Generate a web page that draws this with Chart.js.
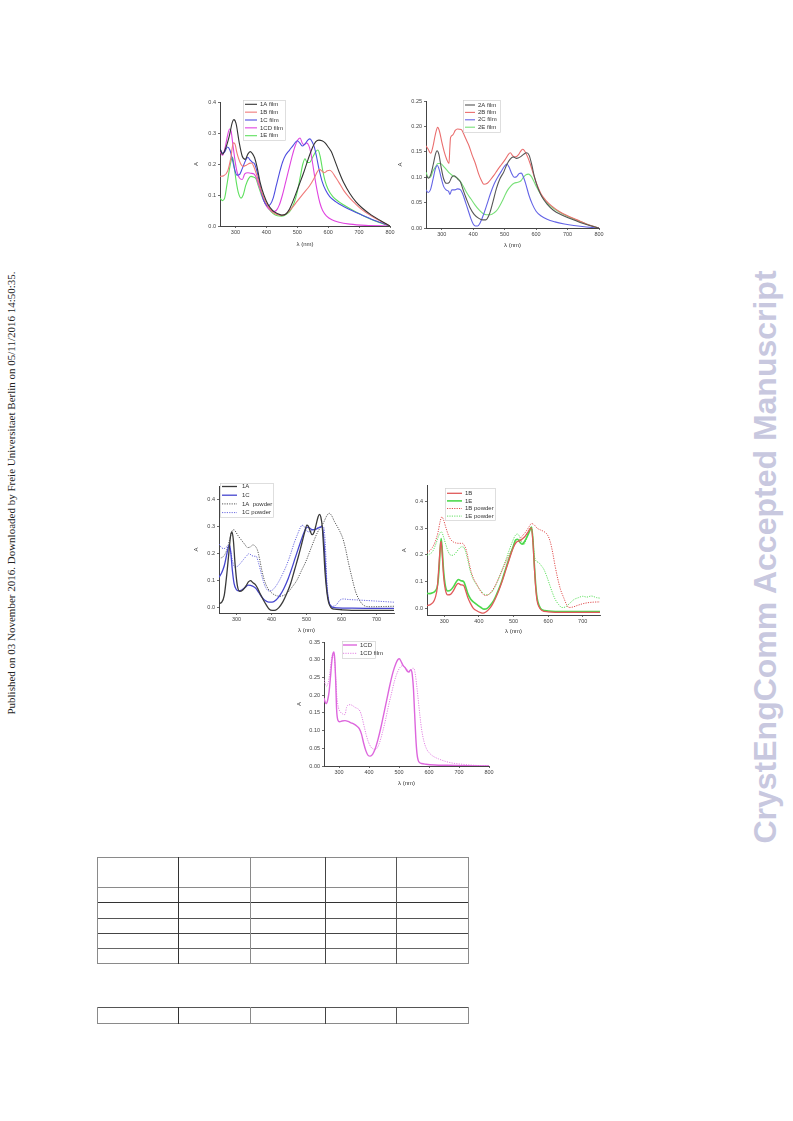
<!DOCTYPE html>
<html><head><meta charset="utf-8">
<script src="https://cdn.jsdelivr.net/npm/chart.js@4.4.1/dist/chart.umd.min.js"></script>
<style>
html,body{margin:0;padding:0;background:#fff;}
#page{position:relative;width:793px;height:1121px;overflow:hidden;background:#fff;}
canvas{position:absolute;filter:blur(0.3px);}
.rot{position:absolute;white-space:nowrap;transform:translate(-50%,-50%) rotate(-90deg);}
.ln{position:absolute;}
</style></head><body><div id="page">
<canvas id="c1" width="212" height="152" style="left:188px;top:96px"></canvas>
<canvas id="c2" width="212" height="154" style="left:396px;top:95px"></canvas>
<canvas id="c3" width="212" height="154" style="left:188px;top:480px"></canvas>
<canvas id="c4" width="212" height="155" style="left:395px;top:480px"></canvas>
<canvas id="c5" width="205" height="151" style="left:295px;top:636px"></canvas>
<div class="rot" style="left:11px;top:493px;font:11px 'Liberation Serif';color:#222">Published on 03 November 2016. Downloaded by Freie Universitaet Berlin on 05/11/2016 14:50:35.</div>
<div class="rot" style="left:765px;top:557px;font:bold 32px 'Liberation Sans';color:#c8c8df">CrystEngComm Accepted Manuscript</div>
<div id="tables"></div>
</div>
<script>
// ---------- DATA ----------
// Chart 1: films (A vs wavelength)
const film1A = [[250,0.25],[258,0.232],[268,0.25],[280,0.29],[290,0.335],[295,0.343],[302,0.33],[312,0.27],[322,0.225],[332,0.215],[340,0.232],[348,0.24],[356,0.232],[362,0.22],[370,0.19],[380,0.14],[392,0.1],[405,0.07],[420,0.05],[435,0.04],[450,0.035],[462,0.038],[475,0.055],[490,0.09],[505,0.13],[520,0.17],[535,0.215],[550,0.255],[560,0.272],[570,0.277],[580,0.275],[590,0.268],[600,0.255],[610,0.24],[620,0.215],[635,0.175],[650,0.14],[670,0.105],[690,0.078],[710,0.058],[740,0.035],[770,0.017],[800,0.0]];
const film1B = [[250,0.16],[262,0.162],[275,0.178],[285,0.22],[293,0.268],[298,0.265],[305,0.235],[315,0.205],[325,0.192],[335,0.196],[345,0.202],[352,0.203],[360,0.19],[370,0.16],[380,0.125],[392,0.09],[405,0.065],[420,0.045],[435,0.037],[450,0.034],[465,0.04],[480,0.055],[500,0.08],[520,0.105],[540,0.13],[555,0.155],[565,0.175],[572,0.183],[580,0.177],[588,0.172],[597,0.178],[605,0.18],[612,0.175],[622,0.16],[635,0.14],[650,0.115],[670,0.09],[690,0.07],[710,0.052],[740,0.032],[770,0.015],[800,0.0]];
const film1C = [[250,0.25],[258,0.235],[266,0.24],[274,0.255],[282,0.245],[290,0.215],[298,0.18],[305,0.164],[312,0.165],[322,0.185],[332,0.21],[340,0.222],[347,0.213],[355,0.205],[362,0.2],[370,0.175],[378,0.14],[386,0.1],[395,0.075],[405,0.065],[413,0.07],[422,0.09],[432,0.13],[442,0.17],[452,0.205],[462,0.228],[475,0.245],[488,0.262],[500,0.275],[508,0.268],[516,0.258],[525,0.265],[535,0.278],[541,0.281],[548,0.272],[555,0.255],[562,0.225],[570,0.185],[580,0.145],[592,0.115],[605,0.095],[625,0.078],[650,0.063],[680,0.048],[710,0.035],[740,0.022],[770,0.011],[800,0.0]];
const film1CD = [[250,0.24],[258,0.228],[266,0.25],[274,0.29],[281,0.313],[286,0.305],[292,0.26],[298,0.215],[305,0.175],[313,0.155],[322,0.15],[330,0.168],[340,0.172],[350,0.17],[360,0.168],[368,0.155],[376,0.13],[386,0.1],[396,0.072],[408,0.055],[420,0.046],[432,0.05],[442,0.068],[452,0.1],[462,0.14],[472,0.18],[482,0.22],[492,0.255],[502,0.278],[509,0.284],[516,0.268],[522,0.262],[530,0.268],[537,0.26],[543,0.24],[550,0.2],[557,0.155],[565,0.11],[573,0.075],[582,0.05],[595,0.032],[612,0.02],[635,0.012],[670,0.006],[720,0.002],[800,0.0]];
const film1E = [[250,0.09],[258,0.082],[265,0.09],[272,0.13],[280,0.18],[287,0.215],[291,0.222],[296,0.19],[303,0.14],[310,0.105],[318,0.09],[325,0.1],[333,0.13],[342,0.152],[350,0.16],[358,0.158],[366,0.153],[374,0.13],[384,0.1],[395,0.075],[408,0.055],[422,0.04],[436,0.033],[450,0.032],[465,0.038],[478,0.05],[490,0.075],[500,0.11],[510,0.16],[518,0.2],[525,0.217],[532,0.205],[540,0.205],[550,0.222],[560,0.24],[567,0.245],[574,0.225],[582,0.18],[590,0.145],[600,0.118],[615,0.095],[635,0.078],[660,0.062],[690,0.045],[720,0.03],[750,0.017],[775,0.008],[800,0.0]];
// Chart 2: films
const film2A = [[250,0.104],[258,0.098],[265,0.105],[273,0.125],[280,0.145],[285,0.152],[291,0.145],[298,0.12],[306,0.097],[315,0.088],[324,0.09],[332,0.1],[339,0.103],[346,0.1],[353,0.095],[360,0.09],[368,0.075],[378,0.058],[390,0.04],[403,0.027],[418,0.019],[430,0.016],[440,0.016],[452,0.028],[463,0.052],[474,0.078],[485,0.097],[497,0.11],[507,0.125],[517,0.135],[527,0.14],[538,0.137],[550,0.14],[560,0.145],[570,0.148],[578,0.143],[586,0.125],[595,0.1],[605,0.08],[618,0.062],[635,0.047],[655,0.035],[680,0.026],[710,0.018],[740,0.011],[770,0.005],[800,0.0]];
const film2B = [[250,0.162],[257,0.155],[265,0.147],[272,0.16],[280,0.185],[287,0.198],[293,0.19],[300,0.17],[308,0.15],[316,0.135],[323,0.127],[326,0.16],[328,0.178],[335,0.183],[343,0.192],[350,0.195],[362,0.194],[370,0.185],[377,0.175],[386,0.163],[397,0.143],[407,0.127],[417,0.107],[425,0.095],[434,0.086],[445,0.088],[455,0.095],[465,0.103],[478,0.115],[490,0.125],[502,0.135],[512,0.145],[518,0.148],[526,0.142],[535,0.14],[545,0.145],[553,0.153],[558,0.155],[565,0.15],[573,0.14],[582,0.125],[592,0.105],[603,0.085],[615,0.068],[630,0.055],[650,0.043],[675,0.032],[700,0.024],[730,0.016],[760,0.008],[800,0.0]];
const film2C = [[250,0.075],[257,0.07],[264,0.075],[272,0.095],[280,0.117],[286,0.123],[292,0.115],[299,0.097],[306,0.082],[314,0.075],[322,0.072],[326,0.066],[332,0.075],[340,0.075],[350,0.077],[360,0.075],[368,0.065],[376,0.05],[385,0.033],[393,0.018],[400,0.008],[407,0.004],[414,0.004],[422,0.01],[432,0.025],[443,0.045],[455,0.068],[467,0.087],[478,0.1],[490,0.112],[500,0.122],[507,0.126],[514,0.12],[522,0.108],[530,0.1],[538,0.101],[546,0.107],[553,0.108],[560,0.1],[568,0.085],[577,0.065],[588,0.047],[600,0.033],[615,0.024],[635,0.017],[660,0.012],[690,0.008],[720,0.005],[760,0.002],[800,0.0]];
const film2E = [[250,0.11],[257,0.1],[264,0.1],[272,0.112],[280,0.12],[288,0.127],[296,0.127],[305,0.122],[315,0.115],[325,0.108],[335,0.103],[345,0.1],[355,0.095],[363,0.088],[372,0.078],[382,0.067],[393,0.057],[405,0.046],[418,0.036],[430,0.029],[442,0.026],[455,0.026],[467,0.03],[478,0.037],[490,0.05],[500,0.063],[510,0.075],[520,0.083],[530,0.088],[542,0.09],[552,0.093],[560,0.1],[568,0.105],[576,0.106],[584,0.102],[592,0.093],[602,0.08],[615,0.066],[630,0.053],[650,0.041],[675,0.031],[700,0.023],[730,0.015],[760,0.008],[800,0.0]];
// Chart 3: 1A / 1C (solution vs powder)
const sol1A = [[250,0.015],[258,0.02],[265,0.045],[272,0.12],[278,0.2],[283,0.265],[287,0.28],[291,0.25],[296,0.16],[302,0.085],[309,0.06],[318,0.065],[327,0.08],[334,0.095],[340,0.1],[347,0.092],[354,0.085],[361,0.07],[368,0.05],[376,0.03],[385,0.01],[393,-0.005],[402,-0.01],[412,-0.009],[421,0.0],[432,0.02],[443,0.05],[455,0.09],[466,0.14],[477,0.19],[487,0.24],[495,0.28],[501,0.305],[505,0.302],[510,0.285],[516,0.27],[522,0.28],[528,0.31],[533,0.335],[537,0.345],[541,0.335],[545,0.3],[549,0.22],[553,0.13],[558,0.06],[563,0.02],[570,0.0],[580,-0.006],[600,-0.008],[650,-0.01],[700,-0.01],[750,-0.01]];
const sol1C = [[250,0.112],[258,0.13],[265,0.155],[271,0.19],[276,0.22],[280,0.232],[284,0.2],[288,0.14],[293,0.09],[299,0.068],[306,0.062],[315,0.065],[325,0.075],[333,0.083],[340,0.082],[348,0.078],[356,0.07],[364,0.055],[372,0.04],[382,0.026],[392,0.02],[402,0.02],[413,0.028],[424,0.045],[435,0.07],[447,0.105],[458,0.145],[468,0.185],[477,0.22],[485,0.25],[492,0.275],[498,0.293],[503,0.298],[510,0.293],[518,0.288],[527,0.29],[536,0.296],[543,0.3],[547,0.285],[551,0.22],[555,0.13],[559,0.06],[564,0.02],[570,0.005],[580,0.0],[620,-0.002],[700,-0.003],[750,-0.003]];
const pow1A = [[250,0.183],[258,0.185],[266,0.195],[274,0.22],[282,0.26],[288,0.285],[293,0.288],[298,0.28],[305,0.265],[314,0.25],[323,0.235],[332,0.222],[340,0.225],[347,0.232],[353,0.228],[360,0.212],[366,0.18],[372,0.14],[380,0.1],[390,0.07],[400,0.055],[412,0.045],[424,0.042],[436,0.046],[448,0.058],[460,0.078],[472,0.1],[485,0.135],[498,0.17],[510,0.21],[522,0.25],[532,0.28],[542,0.3],[550,0.318],[558,0.34],[565,0.349],[572,0.34],[580,0.318],[588,0.3],[596,0.28],[604,0.255],[612,0.215],[620,0.165],[630,0.11],[640,0.06],[650,0.03],[660,0.012],[672,0.004],[690,0.003],[720,0.004],[750,0.005]];
const pow1C = [[250,0.235],[257,0.222],[264,0.218],[272,0.225],[278,0.232],[283,0.21],[289,0.17],[295,0.15],[302,0.152],[310,0.162],[320,0.178],[330,0.193],[336,0.2],[343,0.193],[350,0.19],[356,0.19],[362,0.17],[368,0.14],[375,0.105],[383,0.075],[392,0.062],[400,0.063],[410,0.075],[420,0.095],[432,0.125],[444,0.16],[455,0.2],[465,0.24],[474,0.27],[482,0.295],[487,0.305],[492,0.302],[498,0.29],[505,0.28],[513,0.283],[522,0.29],[532,0.296],[542,0.3],[548,0.3],[552,0.27],[555,0.2],[558,0.1],[562,0.04],[567,0.012],[575,0.005],[585,0.01],[595,0.027],[605,0.032],[620,0.03],[650,0.028],[700,0.024],[750,0.02]];
// Chart 4: 1B / 1E (solution vs powder)
const sol1B = [[250,0.01],[258,0.013],[266,0.02],[274,0.04],[280,0.08],[285,0.17],[289,0.24],[291,0.25],[294,0.2],[298,0.12],[303,0.07],[310,0.05],[318,0.052],[326,0.065],[334,0.085],[340,0.093],[348,0.088],[356,0.085],[362,0.065],[368,0.04],[375,0.02],[384,0.0],[395,-0.01],[405,-0.016],[412,-0.018],[420,-0.014],[428,-0.005],[437,0.01],[447,0.035],[457,0.065],[467,0.1],[477,0.14],[487,0.18],[496,0.215],[504,0.24],[511,0.25],[518,0.252],[526,0.26],[534,0.27],[542,0.285],[549,0.3],[552,0.3],[556,0.25],[560,0.16],[564,0.08],[568,0.03],[574,0.005],[582,-0.008],[600,-0.013],[650,-0.015],[700,-0.015],[750,-0.015]];
const sol1E = [[250,0.056],[258,0.055],[266,0.058],[274,0.065],[281,0.09],[285,0.15],[288,0.22],[291,0.261],[294,0.22],[298,0.14],[303,0.085],[310,0.065],[318,0.068],[326,0.08],[334,0.098],[341,0.108],[348,0.103],[356,0.1],[362,0.08],[368,0.055],[376,0.035],[386,0.022],[396,0.012],[406,0.003],[415,-0.003],[424,0.0],[433,0.012],[443,0.03],[453,0.058],[463,0.09],[473,0.13],[483,0.17],[492,0.205],[500,0.235],[506,0.255],[512,0.258],[518,0.248],[525,0.24],[532,0.25],[540,0.27],[547,0.29],[552,0.304],[556,0.26],[560,0.17],[564,0.09],[568,0.04],[574,0.01],[582,-0.005],[600,-0.01],[650,-0.012],[700,-0.012],[750,-0.012]];
const pow1B = [[250,0.209],[258,0.215],[266,0.228],[274,0.25],[282,0.285],[288,0.325],[293,0.342],[298,0.33],[305,0.3],[313,0.27],[322,0.252],[332,0.245],[342,0.243],[352,0.243],[358,0.235],[364,0.215],[370,0.18],[377,0.14],[385,0.11],[394,0.09],[402,0.07],[410,0.055],[418,0.048],[426,0.05],[436,0.062],[447,0.085],[458,0.115],[470,0.15],[482,0.185],[494,0.215],[505,0.24],[515,0.255],[525,0.27],[535,0.285],[545,0.305],[552,0.317],[560,0.312],[568,0.3],[578,0.293],[588,0.287],[598,0.275],[606,0.25],[613,0.21],[620,0.16],[628,0.11],[636,0.07],[645,0.04],[653,0.015],[660,0.003],[672,0.005],[685,0.011],[700,0.017],[715,0.021],[730,0.023],[750,0.024]];
const pow1E = [[250,0.199],[258,0.203],[266,0.212],[274,0.235],[282,0.265],[288,0.283],[292,0.286],[297,0.27],[304,0.24],[312,0.21],[320,0.198],[328,0.2],[336,0.212],[344,0.225],[350,0.23],[356,0.228],[362,0.21],[368,0.18],[375,0.14],[383,0.11],[392,0.09],[402,0.072],[412,0.057],[420,0.05],[430,0.053],[440,0.065],[452,0.095],[464,0.135],[476,0.175],[487,0.215],[497,0.25],[505,0.272],[511,0.278],[517,0.27],[524,0.248],[530,0.238],[536,0.255],[542,0.28],[548,0.3],[552,0.305],[556,0.26],[560,0.2],[565,0.177],[572,0.172],[580,0.16],[588,0.145],[596,0.12],[604,0.09],[612,0.06],[620,0.035],[630,0.015],[640,0.003],[650,0.005],[662,0.018],[675,0.033],[688,0.04],[700,0.045],[712,0.042],[725,0.046],[740,0.04],[750,0.038]];
// Chart 5: 1CD vs 1CD film
const sol1CD = [[250,0.192],[254,0.18],[258,0.176],[262,0.185],[267,0.21],[272,0.255],[276,0.295],[280,0.318],[283,0.322],[286,0.3],[289,0.24],[292,0.16],[296,0.13],[302,0.125],[310,0.127],[320,0.128],[330,0.126],[340,0.122],[350,0.118],[360,0.112],[368,0.105],[375,0.09],[382,0.065],[390,0.042],[397,0.03],[404,0.028],[412,0.033],[420,0.047],[430,0.075],[440,0.11],[450,0.15],[460,0.19],[470,0.23],[480,0.265],[490,0.29],[496,0.3],[501,0.303],[507,0.295],[514,0.283],[520,0.278],[527,0.268],[533,0.265],[539,0.272],[543,0.265],[548,0.22],[552,0.15],[556,0.08],[560,0.035],[566,0.012],[575,0.007],[590,0.005],[620,0.003],[660,0.002],[720,0.001],[800,0.0]];
const fil1CD = [[250,0.244],[255,0.23],[259,0.225],[264,0.235],[269,0.26],[274,0.295],[278,0.315],[281,0.318],[285,0.3],[289,0.25],[293,0.195],[298,0.165],[305,0.152],[312,0.147],[320,0.145],[325,0.165],[330,0.172],[338,0.173],[346,0.17],[354,0.165],[362,0.162],[370,0.155],[376,0.14],[383,0.115],[390,0.09],[398,0.068],[406,0.054],[414,0.048],[421,0.047],[428,0.052],[436,0.068],[445,0.095],[455,0.13],[465,0.17],[475,0.205],[485,0.24],[495,0.265],[505,0.28],[513,0.283],[520,0.278],[527,0.272],[534,0.268],[540,0.27],[546,0.276],[550,0.275],[555,0.255],[560,0.22],[565,0.18],[570,0.14],[576,0.1],[583,0.07],[592,0.048],[602,0.036],[615,0.027],[632,0.02],[655,0.013],[680,0.008],[710,0.005],[750,0.002],[800,0.0]];

// tick values
const xTicks800 = [300,400,500,600,700,800];
const xTicks700 = [300,400,500,600,700];
const yTicks1 = [0,0.1,0.2,0.3,0.4];
const yTicks2 = [0,0.05,0.10,0.15,0.20,0.25];
const yTicks34 = [0,0.1,0.2,0.3,0.4];
const yTicks5 = [0,0.05,0.10,0.15,0.20,0.25,0.30,0.35];

// ---------- RENDER ----------
const FONT = "'Liberation Sans', Arial, sans-serif";
const innerLegend = {
  id:'innerLegend',
  afterDraw(chart, args, o){
    const ctx = chart.ctx; ctx.save();
    ctx.strokeStyle = '#d0d0d0'; ctx.lineWidth = 0.7;
    ctx.strokeRect(o.box[0]+0.5, o.box[1]+0.5, o.box[2], o.box[3]);
    chart.data.datasets.forEach((d,i)=>{
      const y = o.y0 + i*o.dy;
      ctx.strokeStyle = d.borderColor; ctx.lineWidth = d.borderWidth;
      ctx.setLineDash(d.borderDash || []);
      ctx.beginPath(); ctx.moveTo(o.lx0, y); ctx.lineTo(o.lx1, y); ctx.stroke();
      ctx.setLineDash([]);
      ctx.fillStyle = '#333'; ctx.font = o.fs + 'px ' + FONT; ctx.textBaseline = 'middle';
      ctx.fillText(d.label, o.tx, y);
    });
    ctx.restore();
  }
};

function makeChart(id, c){
  new Chart(document.getElementById(id), {
    type:'line',
    data:{datasets:c.series.map(s=>({
      label:s[0], data:s[1].map(p=>({x:p[0], y:p[1]})), borderColor:s[2],
      borderWidth:s[3]||1.1, borderDash:s[4]||[], pointRadius:0, fill:false,
      cubicInterpolationMode:'monotone', tension:0.4
    }))},
    options:{
      responsive:false, animation:false, devicePixelRatio:1, events:[],
      layout:{padding:{left:0, top:c.top, right:c.right, bottom:0}},
      plugins:{legend:{display:false}, tooltip:{enabled:false}, innerLegend:c.legend},
      scales:{
        x:{type:'linear', min:c.xmin, max:c.xmax,
          afterFit:s=>{s.height=c.xh;},
          afterBuildTicks:s=>{s.ticks=c.xticks.map(v=>({value:v}));},
          grid:{drawOnChartArea:false, drawTicks:true, tickLength:2, color:'#444', lineWidth:0.8},
          border:{color:'#444', width:1},
          ticks:{font:{size:5.5, family:FONT}, color:'#444', padding:1, maxRotation:0, autoSkip:false, callback:v=>String(v)},
          title:{display:true, text:'λ (nm)', font:{size:6, family:FONT}, color:'#333', padding:{top:c.xtt, bottom:0}}
        },
        y:{type:'linear', min:c.ymin, max:c.ymax,
          afterFit:s=>{s.width=c.yw;},
          afterBuildTicks:s=>{s.ticks=c.yticks.map(v=>({value:v}));},
          grid:{drawOnChartArea:false, drawTicks:true, tickLength:2, color:'#444', lineWidth:0.8},
          border:{color:'#444', width:1},
          ticks:{font:{size:5.5, family:FONT}, color:'#444', padding:2, autoSkip:false, callback:v=>v.toFixed(c.dec)},
          title:{display:true, text:'A', font:{size:6, family:FONT}, color:'#333', padding:{top:c.ytt, bottom:0}}
        }
      }
    },
    plugins:[innerLegend]
  });
}

makeChart('c1', {top:6, right:10, xh:22, yw:32, xmin:250, xmax:800, ymin:0, ymax:0.4, dec:1, xtt:2, ytt:5,
  xticks:xTicks800, yticks:yTicks1,
  series:[['1A film',film1A,'#333333'],['1B film',film1B,'#f07a7a'],['1C film',film1C,'#4d4de0'],['1CD film',film1CD,'#e044e0'],['1E film',film1E,'#5ee05e']],
  legend:{box:[55,4,42,40], y0:8.3, dy:7.85, lx0:57, lx1:69, tx:72, fs:6}});

makeChart('c2', {top:6, right:9, xh:21, yw:30, xmin:250, xmax:800, ymin:0, ymax:0.25, dec:2, xtt:2, ytt:1,
  xticks:xTicks800, yticks:yTicks2,
  series:[['2A film',film2A,'#555555'],['2B film',film2B,'#ea6e6e'],['2C film',film2C,'#6464e6'],['2E film',film2E,'#78e078']],
  legend:{box:[67,5,37,32], y0:10, dy:7.4, lx0:69, lx1:79, tx:82, fs:6}});

makeChart('c3', {top:6, right:6, xh:21, yw:31, xmin:250, xmax:750, ymin:-0.02, ymax:0.45, dec:1, xtt:3, ytt:5,
  xticks:xTicks700, yticks:yTicks34,
  series:[['1A',sol1A,'#3a3a3a',1.3],['1C',sol1C,'#4545cf',1.3],['1A  powder',pow1A,'#555555',1,[1.2,1.2]],['1C powder',pow1C,'#6b6be0',1,[1.2,1.2]]],
  legend:{box:[32,3,53,34], y0:6.5, dy:8.7, lx0:34, lx1:49, tx:54, fs:6}});

makeChart('c4', {top:5, right:7, xh:20, yw:32, xmin:250, xmax:750, ymin:-0.025, ymax:0.46, dec:1, xtt:3, ytt:6,
  xticks:xTicks700, yticks:yTicks34,
  series:[['1B',sol1B,'#e05a5a',1.3],['1E',sol1E,'#4cd84c',1.6],['1B powder',pow1B,'#e05050',1,[1.2,1.2]],['1E powder',pow1E,'#60e060',1,[1.2,1.2]]],
  legend:{box:[50,8,50,32], y0:13.3, dy:7.6, lx0:52, lx1:67, tx:70, fs:6}});

makeChart('c5', {top:6, right:11, xh:21, yw:29, xmin:250, xmax:800, ymin:0, ymax:0.35, dec:2, xtt:2, ytt:1,
  xticks:xTicks800, yticks:yTicks5,
  series:[['1CD',sol1CD,'#dd66dd',1.4],['1CD film',fil1CD,'#e384e3',1,[1.2,1.2]]],
  legend:{box:[47,5,33,17], y0:9, dy:8.3, lx0:48, lx1:62, tx:65, fs:6}});

// ---------- empty tables (rule lines) ----------
(function(){
  const host = document.getElementById('tables');
  function h(x1,x2,y,col){const d=document.createElement('div');d.className='ln';d.style.cssText=`left:${x1}px;top:${y}px;width:${x2-x1+1}px;height:1px;background:${col}`;host.appendChild(d);}
  function v(x,y1,y2,col){const d=document.createElement('div');d.className='ln';d.style.cssText=`left:${x}px;top:${y1}px;width:1px;height:${y2-y1+1}px;background:${col}`;host.appendChild(d);}
  const cols=[97,178,250,325,396,468], vcol=['#8a8a8a','#333','#8a8a8a','#444','#555','#8a8a8a'];
  const rows=[857,887,902,918,933,948,963], hcol=['#8a8a8a','#8a8a8a','#333','#555','#444','#666','#8a8a8a'];
  rows.forEach((y,i)=>h(97,468,y,hcol[i]));
  cols.forEach((x,i)=>v(x,857,963,vcol[i]));
  [1007,1023].forEach((y,i)=>h(97,468,y,i?'#8a8a8a':'#555'));
  cols.forEach((x,i)=>v(x,1007,1023,vcol[i]));
})();
</script>
</body></html>
